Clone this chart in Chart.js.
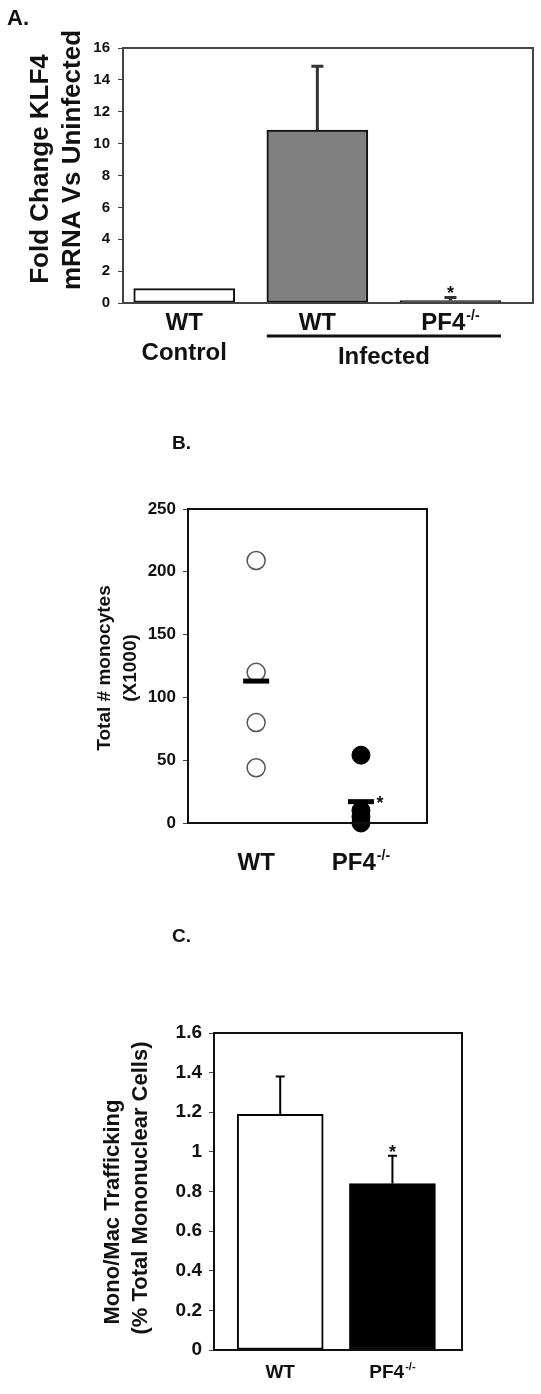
<!DOCTYPE html>
<html>
<head>
<meta charset="utf-8">
<title>KLF4 / monocytes / trafficking</title>
<script src="https://cdn.jsdelivr.net/npm/chart.js@4.4.0/dist/chart.umd.min.js"></script>
<style>
    html, body { margin: 0; padding: 0; background: #fff; }
    #page { position: relative; width: 541px; height: 1394px; }
    .panel { position: absolute; left: 0; }
</style>
</head>
<body>
<div id="page">
    <canvas id="chartA" class="panel" width="541" height="420" style="top:0px"></canvas>
    <canvas id="chartB" class="panel" width="541" height="460" style="top:420px"></canvas>
    <canvas id="chartC" class="panel" width="541" height="514" style="top:880px"></canvas>
</div>
<script>
var FONT = '"Liberation Sans", Arial, Helvetica, sans-serif';

// Panel A - KLF4 fold change
var klfNames = ['WT', 'WT', 'PF4-/-'];
var klfMean = [0.9, 10.85, 0.15];
var klfErr = [0, 4.0, 0.2];
var klfSig = [false, false, true];

// Panel B - monocytes (x1000), one value per animal
var monoGroups = ['WT', 'PF4-/-'];
var monoWT = [209, 120, 80, 44];
var monoKO = [54, 10, 5, 0];
var monoMean = [113, 17];

// Panel C - mono/mac trafficking
var traffGroups = ['WT', 'PF4-/-'];
var traffMean = [1.19, 0.84];
var traffErr = [0.19, 0.14];
var traffSig = [false, true];

Chart.defaults.font.family = FONT;
Chart.defaults.color = '#111';

/*
 * Small drawing helpers
 */
var text = function(ctx, str, x, y, size, align) {
    ctx.save();
    ctx.font = 'bold ' + size + 'px ' + FONT;
    ctx.fillStyle = '#111';
    ctx.textAlign = align || 'center';
    ctx.textBaseline = 'alphabetic';
    ctx.fillText(str, x, y);
    ctx.restore();
};

var vtext = function(ctx, str, x, y, size) {
    ctx.save();
    ctx.translate(x, y);
    ctx.rotate(-Math.PI / 2);
    text(ctx, str, 0, 0, size);
    ctx.restore();
};

// group label, a trailing "-/-" is set as superscript
var groupLabel = function(ctx, str, x, y, size) {
    var sup = '';
    if (str.slice(-3) == '-/-') {
        sup = '-/-';
        str = str.slice(0, -3);
    }
    var supSize = Math.round(size * 0.6);
    ctx.save();
    ctx.font = 'bold ' + size + 'px ' + FONT;
    var w1 = ctx.measureText(str).width;
    ctx.font = 'bold ' + supSize + 'px ' + FONT;
    var w2 = sup ? ctx.measureText(sup).width + 1 : 0;
    ctx.restore();
    var left = x - (w1 + w2) / 2;
    text(ctx, str, left, y, size, 'left');
    if (sup) {
        text(ctx, sup, left + w1 + 1, y - size * 0.42, supSize, 'left');
    }
};

var drawFrame = function(chart, color) {
    var a = chart.chartArea;
    var ctx = chart.ctx;
    ctx.save();
    ctx.strokeStyle = color;
    ctx.lineWidth = 2;
    ctx.strokeRect(a.left, a.top, a.right - a.left, a.bottom - a.top);
    ctx.restore();
};

// upward error bars + significance stars on dataset 0
var drawErrors = function(chart, vals, errs, sig, width, cap, color) {
    var ctx = chart.ctx;
    var yScale = chart.scales.y;
    var bars = chart.getDatasetMeta(0).data;
    ctx.save();
    ctx.strokeStyle = color;
    ctx.lineWidth = width;
    bars.forEach(function(bar, i) {
        var yTop = yScale.getPixelForValue(vals[i] + errs[i]);
        if (errs[i]) {
            ctx.beginPath();
            ctx.moveTo(bar.x, bar.y);
            ctx.lineTo(bar.x, yTop);
            ctx.moveTo(bar.x - cap / 2, yTop);
            ctx.lineTo(bar.x + cap / 2, yTop);
            ctx.stroke();
        }
        if (sig[i]) {
            text(ctx, '*', bar.x, yTop + 2, 18);
        }
    });
    ctx.restore();
};

// index based x axis, min/max set where the groups sit inside the box
var xAxis = function(min, max) {
    return { type: 'linear', display: false, offset: false, min: min, max: max };
};

var yAxis = function(max, step, size, width, pad) {
    return {
        min: 0,
        max: max,
        ticks: {
            stepSize: step,
            color: '#111',
            padding: pad,
            font: { size: size, weight: 'bold' },
            callback: function(v) { return String(Math.round(v * 10) / 10); }
        },
        grid: { drawOnChartArea: false, tickLength: 5, color: '#444' },
        border: { color: '#222', width: 2 },
        afterFit: function(scale) { scale.width = width; }
    };
};

var indexed = function(values) {
    return values.map(function(v, i) { return { x: i, y: v }; });
};

var pointsOf = function(index, values) {
    return values.map(function(v) { return { x: index, y: v }; });
};

var basePlugins = { legend: { display: false }, tooltip: { enabled: false } };

/*
 * Panel A
 */
new Chart(document.getElementById('chartA'), {
    type: 'bar',
    data: {
        datasets: [{
            data: indexed(klfMean),
            backgroundColor: ['#ffffff', '#808080', '#333333'],
            borderColor: '#111',
            borderWidth: 2,
            borderSkipped: false,
            barThickness: 101
        }]
    },
    options: {
        responsive: false,
        animation: false,
        layout: { padding: { top: 48, bottom: 117, left: 0, right: 8 } },
        scales: {
            x: xAxis(-0.46, 2.62),
            y: yAxis(16, 2, 15, 123, 8)
        },
        plugins: basePlugins
    },
    plugins: [{
        id: 'decorA',
        afterDraw: function(chart) {
            var ctx = chart.ctx;
            var bars = chart.getDatasetMeta(0).data;
            drawFrame(chart, '#444');
            drawErrors(chart, klfMean, klfErr, klfSig, 3, 12, '#333');

            text(ctx, 'A.', 7, 25, 22, 'left');
            vtext(ctx, 'Fold Change KLF4', 48, 169, 26);
            vtext(ctx, 'mRNA Vs Uninfected', 80, 160, 26);

            bars.forEach(function(bar, i) {
                groupLabel(ctx, klfNames[i], bar.x, 330, 24);
            });
            text(ctx, 'Control', bars[0].x, 360, 24);

            // bracket under the infected groups
            ctx.save();
            ctx.strokeStyle = '#111';
            ctx.lineWidth = 3;
            ctx.beginPath();
            ctx.moveTo(bars[1].x - bars[1].width / 2, 336);
            ctx.lineTo(bars[2].x + bars[2].width / 2, 336);
            ctx.stroke();
            ctx.restore();
            text(ctx, 'Infected', (bars[1].x + bars[2].x) / 2, 364, 24);
        }
    }]
});

/*
 * Panel B
 */
new Chart(document.getElementById('chartB'), {
    type: 'line',
    data: {
        datasets: [{
            data: indexed(monoMean),
            showLine: false,
            clip: false,
            pointStyle: 'line',
            pointRadius: 13,
            pointBorderWidth: 5,
            pointBorderColor: '#000'
        }, {
            data: pointsOf(0, monoWT),
            showLine: false,
            clip: false,
            pointRadius: 9,
            pointBackgroundColor: '#fff',
            pointBorderColor: '#555',
            pointBorderWidth: 1.5
        }, {
            data: pointsOf(1, monoKO),
            showLine: false,
            clip: false,
            pointRadius: 9,
            pointBackgroundColor: '#000',
            pointBorderColor: '#000',
            pointBorderWidth: 1
        }]
    },
    options: {
        responsive: false,
        animation: false,
        layout: { padding: { top: 89, bottom: 57, left: 0, right: 114 } },
        scales: {
            x: xAxis(-0.65, 1.63),
            y: yAxis(250, 50, 17, 188, 7)
        },
        plugins: basePlugins
    },
    plugins: [{
        id: 'decorB',
        afterDraw: function(chart) {
            var ctx = chart.ctx;
            var xs = chart.scales.x;
            var ys = chart.scales.y;
            drawFrame(chart, '#111');

            text(ctx, 'B.', 172, 29, 19, 'left');
            vtext(ctx, 'Total # monocytes', 110, 248, 19);
            vtext(ctx, '(X1000)', 136, 248, 19);

            monoGroups.forEach(function(g, i) {
                groupLabel(ctx, g, xs.getPixelForValue(i), 450, 24);
            });
            text(ctx, '*', xs.getPixelForValue(1) + 19, ys.getPixelForValue(monoMean[1]) + 7, 18);
        }
    }]
});

/*
 * Panel C
 */
new Chart(document.getElementById('chartC'), {
    type: 'bar',
    data: {
        datasets: [{
            data: indexed(traffMean),
            backgroundColor: ['#ffffff', '#000000'],
            borderColor: '#000',
            borderWidth: 2,
            borderSkipped: false,
            barThickness: 86
        }]
    },
    options: {
        responsive: false,
        animation: false,
        layout: { padding: { top: 153, bottom: 44, left: 0, right: 79 } },
        scales: {
            x: xAxis(-0.59, 1.62),
            y: yAxis(1.6, 0.2, 19, 214, 7)
        },
        plugins: basePlugins
    },
    plugins: [{
        id: 'decorC',
        afterDraw: function(chart) {
            var ctx = chart.ctx;
            var bars = chart.getDatasetMeta(0).data;
            drawFrame(chart, '#111');
            drawErrors(chart, traffMean, traffErr, traffSig, 2, 9, '#000');

            text(ctx, 'C.', 172, 62, 19, 'left');
            vtext(ctx, 'Mono/Mac Trafficking', 119, 332, 22);
            vtext(ctx, '(% Total Mononuclear Cells)', 147, 308, 22);

            bars.forEach(function(bar, i) {
                groupLabel(ctx, traffGroups[i], bar.x, 498, 19);
            });
        }
    }]
});
</script>
</body>
</html>
